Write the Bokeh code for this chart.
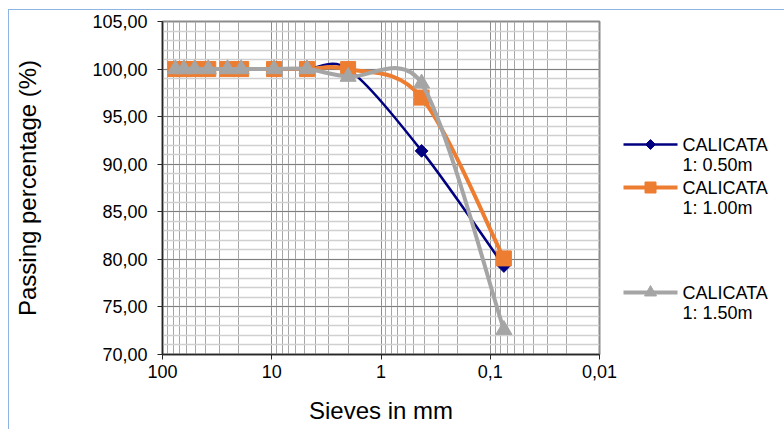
import numpy as np
from bokeh.plotting import figure
from bokeh.layouts import row, column
from bokeh.models import (Range1d, FixedTicker, CustomJSTickFormatter, ColumnDataSource, Spacer)
from bokeh.core.properties import value
from bokeh.embed import file_html
from bokeh.resources import INLINE

# ---- data ----
sieves_mm = [76.2, 63.5, 50.8, 38.1, 25.4, 19.05, 9.525, 4.76, 2.0, 0.425, 0.075]
pass_050 = [100.0, 100.0, 100.0, 100.0, 100.0, 100.0, 100.0, 100.0, 100.0, 91.4, 79.3]
pass_100 = [100.0, 100.0, 100.0, 100.0, 100.0, 100.0, 100.0, 100.0, 100.0, 97.0, 80.1]
pass_150 = [100.0, 100.0, 100.0, 100.0, 100.0, 100.0, 100.0, 100.0, 99.2, 98.5, 72.6]
series_names = ["CALICATA\n1: 0.50m", "CALICATA\n1: 1.00m", "CALICATA\n1: 1.50m"]
x_ticks = [100, 10, 1, 0.1, 0.01]
y_ticks = [70, 75, 80, 85, 90, 95, 100, 105]

FONT = "Liberation Sans"
BLUE_FRAME = "#8DB4E2"
COLORS = ["#000080", "#ED7D31", "#A5A5A5"]

# pixel scale of the plot frame (used only to mimic Excel's smoothing, done in screen space)
PX_PER_DECADE = 109.25
PX_PER_UNIT = 9.514


def smooth(xs, ys):
    """Excel-like smoothed line: cubic Bezier segments with control length limited to half a segment."""
    P = np.column_stack([np.log10(np.asarray(xs, float)) * PX_PER_DECADE,
                         np.asarray(ys, float) * PX_PER_UNIT])
    n = len(P)
    d = {k: [] for k in ("x0", "y0", "x1", "y1", "cx0", "cy0", "cx1", "cy1")}
    for i in range(n - 1):
        p0 = P[max(i - 1, 0)]
        p1, p2 = P[i], P[i + 1]
        p3 = P[min(i + 2, n - 1)]
        d12 = np.hypot(*(p2 - p1))
        d02 = np.hypot(*(p2 - p0))
        d13 = np.hypot(*(p3 - p1))
        f1 = 1 / 6 if d02 / 6 < d12 / 2 else d12 / (2 * d02)
        f2 = 1 / 6 if d13 / 6 < d12 / 2 else d12 / (2 * d13)
        c1 = p1 + (p2 - p0) * f1
        c2 = p2 - (p3 - p1) * f2
        for key, pt in (("0", p1), ("1", p2)):
            d["x" + key].append(10 ** (pt[0] / PX_PER_DECADE)); d["y" + key].append(pt[1] / PX_PER_UNIT)
        d["cx0"].append(10 ** (c1[0] / PX_PER_DECADE)); d["cy0"].append(c1[1] / PX_PER_UNIT)
        d["cx1"].append(10 ** (c2[0] / PX_PER_DECADE)); d["cy1"].append(c2[1] / PX_PER_UNIT)
    return ColumnDataSource(d)


BORDER_TOP, BORDER_BOTTOM = 11, 75
p = figure(width=611, height=419, x_axis_type="log",
           x_range=Range1d(100, 0.01), y_range=Range1d(70, 105),
           output_backend="svg", toolbar_location=None,
           min_border_left=153, min_border_right=21,
           min_border_top=BORDER_TOP, min_border_bottom=BORDER_BOTTOM)
p.background_fill_color = "white"
p.border_fill_color = "white"
p.outline_line_color = "#8C8C8C"
p.outline_line_width = 2

minor_x = [m * 10.0 ** e for e in (-2, -1, 0, 1) for m in range(2, 10)]
p.xaxis.ticker = FixedTicker(ticks=x_ticks, minor_ticks=minor_x)
p.yaxis.ticker = FixedTicker(ticks=y_ticks, minor_ticks=list(range(70, 106)))
p.xaxis.formatter = CustomJSTickFormatter(code="return tick >= 1 ? tick.toFixed(0) : String(tick).replace('.', ',');")
p.yaxis.formatter = CustomJSTickFormatter(code="return tick.toFixed(2).replace('.', ',');")

for ax in (p.xaxis, p.yaxis):
    ax.major_label_text_font = FONT
    ax.major_label_text_font_size = "18px"
    ax.major_label_text_color = "black"
    ax.axis_label_text_font = FONT
    ax.axis_label_text_font_size = "24px"
    ax.axis_label_text_font_style = "normal"
    ax.axis_label_text_color = "black"
    ax.axis_line_color = "#262626"
    ax.axis_line_width = 1.5
    ax.major_tick_line_color = "#262626"
    ax.major_tick_in = 0
    ax.major_tick_out = 5
    ax.minor_tick_line_color = None

p.xaxis.axis_label = "Sieves in mm"
p.yaxis.axis_label = "Passing percentage (%)"
p.xaxis.major_label_standoff = 5
p.xaxis.axis_label_standoff = 16
p.yaxis.major_label_standoff = 10
p.yaxis.axis_label_standoff = 48

p.xgrid.grid_line_color = "#8C8C8C"
p.xgrid.minor_grid_line_color = "#A6A6A6"
p.ygrid.grid_line_color = "#7F7F7F"
p.ygrid.minor_grid_line_color = "#D0D0D0"
p.ygrid.minor_grid_line_width = 1.5

# marker styles: (marker, size, angle, line width, legend marker size)
styles = [("square", 9, np.pi / 4, 2.5, 7),
          ("square", 15, 0, 4, 11),
          ("triangle", 16, 0, 4, 12)]
series = [pass_050, pass_100, pass_150]

for vals, col, (mk, sz, ang, lw, _) in zip(series, COLORS, styles):
    p.bezier(x0="x0", y0="y0", x1="x1", y1="y1", cx0="cx0", cy0="cy0", cx1="cx1", cy1="cy1",
             source=smooth(sieves_mm, vals), line_color=col, line_width=lw)
    p.scatter(sieves_mm, vals, marker=mk, size=sz, angle=ang, fill_color=col, line_color=col)

# ---- legend panel (separate canvas to the right of the plot; frame shares the plot's top/bottom) ----
LW, LH = 164, 419
lg = figure(width=LW, height=LH, x_range=Range1d(0, LW),
            y_range=Range1d(LH - BORDER_BOTTOM, BORDER_TOP),   # pixel-like coordinates, top-down
            output_backend="svg", toolbar_location=None,
            min_border_left=0, min_border_right=0,
            min_border_top=BORDER_TOP, min_border_bottom=BORDER_BOTTOM,
            x_axis_location=None, y_axis_location=None)
lg.grid.visible = False
lg.outline_line_color = None
lg.background_fill_color = "white"
lg.border_fill_color = "white"

entry_top = [134, 177, 282]      # layout: vertical position of each legend entry
line_gap = 20
for name, col, (mk, sz, ang, lw, lsz), ty in zip(series_names, COLORS, styles, entry_top):
    lg.line([3, 57], [ty, ty], line_color=col, line_width=lw)
    lg.scatter([30], [ty], marker=mk, size=lsz, angle=ang, fill_color=col, line_color=col)
    l1, l2 = name.split("\n")
    lg.text([62, 62], [ty, ty + line_gap], text=[l1, l2], text_font=value(FONT),
            text_font_size="18px", text_baseline="middle", text_color="black")

# ---- page box with light-blue top / left edge ----
layout = column(
    Spacer(width=784, height=9),
    row(Spacer(width=8, height=420),
        column(Spacer(width=776, height=1, styles={"background-color": BLUE_FRAME}),
               row(Spacer(width=1, height=419, styles={"background-color": BLUE_FRAME}),
                   p, lg))))

open("out.html", "w").write(file_html(layout, INLINE))
